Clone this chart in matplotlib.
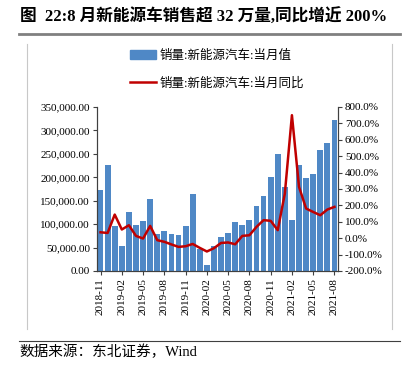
import numpy as np
import matplotlib
matplotlib.use("Agg")
import matplotlib.pyplot as plt
from matplotlib.lines import Line2D
from matplotlib.patches import Patch
from matplotlib.ticker import FuncFormatter, MultipleLocator

plt.rcParams['font.family'] = ['Liberation Serif', 'Noto Sans CJK SC']
plt.rcParams['axes.unicode_minus'] = False

# monthly data, 2018-11 .. 2021-08
months = ['2018-11', '2018-12',
          '2019-01', '2019-02', '2019-03', '2019-04', '2019-05', '2019-06',
          '2019-07', '2019-08', '2019-09', '2019-10', '2019-11', '2019-12',
          '2020-01', '2020-02', '2020-03', '2020-04', '2020-05', '2020-06',
          '2020-07', '2020-08', '2020-09', '2020-10', '2020-11', '2020-12',
          '2021-01', '2021-02', '2021-03', '2021-04', '2021-05', '2021-06',
          '2021-07', '2021-08']
sales = [172000, 227000, 96000, 53000, 126000, 98000, 106000, 153000,
         80000, 85000, 80000, 76000, 96000, 164000,
         46000, 13500, 53000, 73000, 82000, 104000, 98000, 109000,
         139000, 161000, 201000, 250000,
         180000, 109000, 226000, 199000, 208000, 258000, 274000, 323000]
yoy = [36, 32, 144, 53, 79, 14, -2, 75, -12, -22, -38, -53, -49, -35,
       -59, -81, -61, -29, -26, -37, 14, 18, 69, 110, 106, 49,
       272, 750, 313, 181, 160, 140, 175, 191]

bar_label = '销量:新能源汽车:当月值'
line_label = '销量:新能源汽车:当月同比'
title = '图  22:8 月新能源车销售超 32 万量,同比增近 200%'
source = '数据来源：东北证券，Wind'

W, H = 408, 365
fig = plt.figure(figsize=(W / 100, H / 100), dpi=100)
ax = fig.add_axes([97 / W, 1 - 271 / H, 241 / W, 164 / H])
ax2 = ax.twinx()

x = np.arange(len(months))
ax.bar(x, sales, width=0.82, color='#4F88C6', zorder=2)
ax2.plot(x, yoy, color='#C00000', lw=1.8, zorder=3)

ax.set_xlim(-0.5, len(months) - 0.5)
ax.set_ylim(0, 350000)
ax2.set_ylim(-200, 800)
ax.yaxis.set_major_locator(MultipleLocator(50000))
ax2.yaxis.set_major_locator(MultipleLocator(100))
ax.yaxis.set_major_formatter(FuncFormatter(lambda v, p: f'{v:,.2f}'))
ax2.yaxis.set_major_formatter(FuncFormatter(lambda v, p: f'{v:.1f}%'))

ax.set_xticks(x[::3])
ax.set_xticklabels(months[::3], rotation=90)

for a in (ax, ax2):
    a.spines['top'].set_visible(False)
    for s in ('left', 'right', 'bottom'):
        a.spines[s].set_color('#404040')
        a.spines[s].set_linewidth(0.8)
    a.tick_params(labelsize=8, length=3, width=0.8, color='#404040', pad=2)

handles = [Patch(color='#4F88C6'), Line2D([], [], color='#C00000', lw=1.8)]
fig.legend(handles, [bar_label, line_label], loc='upper left',
           bbox_to_anchor=(130 / W, 1 - 50 / H), frameon=False,
           fontsize=9, handlelength=2.1, handleheight=0.75,
           labelspacing=1.2, borderpad=0, borderaxespad=0, handletextpad=0.3)

fig.text(20 / W, 1 - 17 / H, title, fontsize=12, fontweight='bold',
         va='center', ha='left')
fig.text(19 / W, 1 - 352 / H, source, fontsize=10.5, va='center', ha='left')

# rules under title / above source, light frame edges
fig.add_artist(Line2D([19 / W, 400 / W], [1 - 34 / H] * 2, color='#808080', lw=2))
fig.add_artist(Line2D([19 / W, 400 / W], [1 - 341 / H] * 2, color='#404040', lw=0.8))
fig.add_artist(Line2D([27 / W] * 2, [1 - 44 / H, 1 - 329 / H], color='#C8C8C8', lw=0.8))
fig.add_artist(Line2D([392 / W] * 2, [1 - 44 / H, 1 - 329 / H], color='#C8C8C8', lw=0.8))

fig.savefig('out.png', dpi=100)
